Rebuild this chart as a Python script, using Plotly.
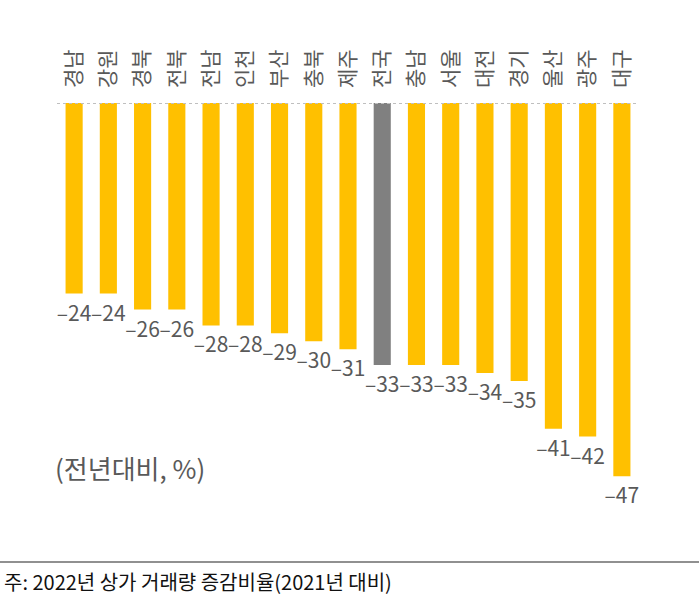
import plotly.graph_objects as go

regions = ["경남", "강원", "경북", "전북", "전남", "인천", "부산", "충북", "제주",
           "전국", "충남", "서울", "대전", "경기", "울산", "광주", "대구"]
values = [-24, -24, -26, -26, -28, -28, -29, -30, -31,
          -33, -33, -33, -34, -35, -41, -42, -47]
highlight = "전국"

YELLOW = "#FFC000"
GRAY = "#808080"
TXT = "#595959"
FONT = "Noto Sans CJK KR"

colors = [GRAY if r == highlight else YELLOW for r in regions]
labels = ["–" + str(abs(v)) for v in values]

fig = go.Figure()
fig.add_trace(go.Bar(
    x=regions, y=values, marker=dict(color=colors, line=dict(width=0)),
    width=0.5, text=labels, textposition="outside", constraintext="none",
    textfont=dict(family=FONT, size=21, color=TXT),
    cliponaxis=False, hoverinfo="skip",
))

# dotted zero line
fig.add_shape(type="line", xref="x", yref="y", x0=-0.5, x1=len(regions) - 0.5,
              y0=0, y1=0, line=dict(color="#BFBFBF", width=2, dash="dot"))

L, R, T, B = 57, 60, 103, 86
W, H = 699, 602
pw, ph = W - L - R, H - T - B

def px(x):
    return (x - L) / pw

def py(y):
    return (H - B - y) / ph

# footer rule
fig.add_shape(type="line", xref="paper", yref="paper", x0=px(0), x1=px(W),
              y0=py(562), y1=py(562), line=dict(color="#222222", width=1.2))

fig.add_annotation(xref="paper", yref="paper", x=px(53), y=py(467),
                   xanchor="left", yanchor="middle", showarrow=False,
                   text="(전년대비, %)", font=dict(family=FONT, size=26, color=TXT))
fig.add_annotation(xref="paper", yref="paper", x=px(2), y=py(581),
                   xanchor="left", yanchor="middle", showarrow=False,
                   text="주: 2022년 상가 거래량 증감비율(2021년 대비)",
                   font=dict(family=FONT, size=20, color="#111111"))

fig.update_layout(
    width=W, height=H, margin=dict(l=L, r=R, t=T, b=B),
    plot_bgcolor="white", paper_bgcolor="white", showlegend=False,
    xaxis=dict(side="top", tickangle=-90, showgrid=False, showline=False,
               ticks="", ticklabelstandoff=14,
               tickfont=dict(family=FONT, size=21, color=TXT),
               range=[-0.5, len(regions) - 0.5]),
    yaxis=dict(range=[-52, 0], visible=False, showgrid=False, zeroline=False),
)

fig.write_html("out.html")
